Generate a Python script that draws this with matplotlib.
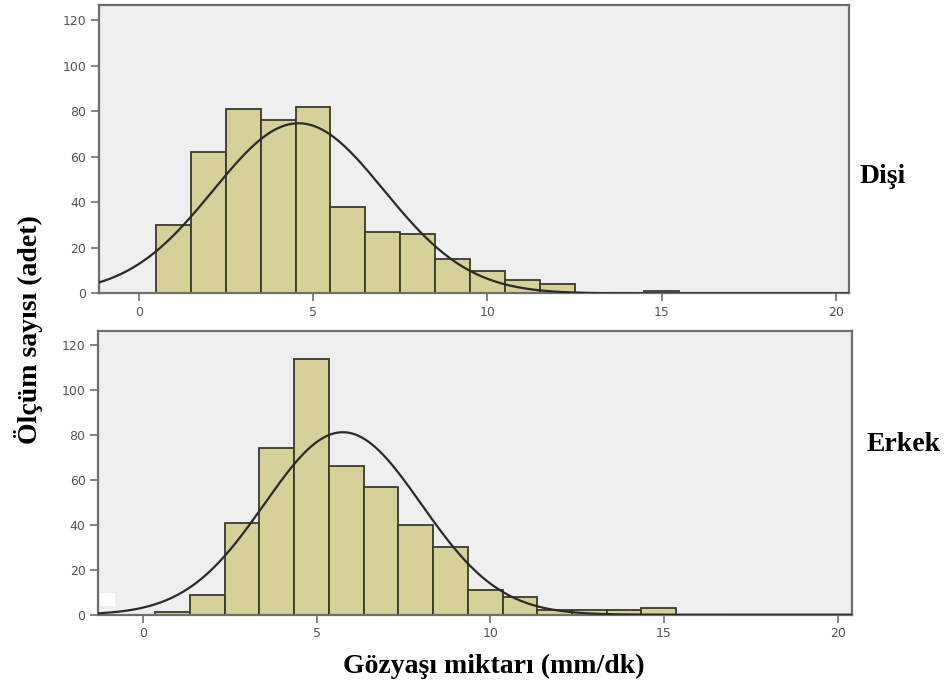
import numpy as np
import matplotlib
matplotlib.use("Agg")
import matplotlib.pyplot as plt
from matplotlib.patches import Rectangle

# ---------------------------------------------------------------------------
# veriler (resimden okunan histogram sayilari, kutu genisligi = 1)
# ---------------------------------------------------------------------------
disi_start = 0.5
disi_counts = [30, 62, 81, 76, 82, 38, 27, 26, 15, 10, 6, 4, 0, 0, 1]

erkek_start = 0.35
erkek_counts = [1, 9, 41, 74, 114, 66, 57, 40, 30, 11, 8, 2, 2, 2, 3]

group_labels = ["Dişi", "Erkek"]
x_ticks = [0, 5, 10, 15, 20]
y_ticks = [0, 20, 40, 60, 80, 100, 120]

BAR = "#d6d198"
EDGE = "#3a3a2a"
PANEL = "#efefef"
SPINE = "#6e6e6e"
SERIF = ["Liberation Serif", "DejaVu Serif"]


def draw_panel(ax, start, counts, xlim, ylim):
    counts = np.asarray(counts, dtype=float)
    edges = start + np.arange(len(counts) + 1)
    ax.bar(edges[:-1], counts, width=1.0, align="edge", color=BAR,
           edgecolor=EDGE, linewidth=1.3, zorder=2)

    # normal egri, histogramin ortalama / std'sinden
    mids = edges[:-1] + 0.5
    n = counts.sum()
    mu = (mids * counts).sum() / n
    sd = np.sqrt(((mids - mu) ** 2 * counts).sum() / n)
    xs = np.linspace(xlim[0], xlim[1], 400)
    ys = n / (sd * np.sqrt(2 * np.pi)) * np.exp(-0.5 * ((xs - mu) / sd) ** 2)
    ax.plot(xs, ys, color="#2a2a2a", linewidth=1.6, zorder=3)

    ax.set_xlim(*xlim)
    ax.set_ylim(*ylim)
    ax.set_facecolor(PANEL)
    ax.set_xticks(x_ticks)
    ax.set_yticks(y_ticks)
    ax.tick_params(direction="out", length=6, width=1.2, color=SPINE,
                   labelsize=9, labelcolor="#555555", pad=3)
    for sp in ax.spines.values():
        sp.set_color(SPINE)
        sp.set_linewidth(1.6)


fig = plt.figure(figsize=(9.47, 6.86), dpi=100)

ax1 = fig.add_axes([0.1045, 0.5722, 0.792, 0.4206])
draw_panel(ax1, disi_start, disi_counts, (-1.14, 20.37), (0, 126.6))

ax2 = fig.add_axes([0.1035, 0.1039, 0.796, 0.414])
draw_panel(ax2, erkek_start, erkek_counts, (-1.30, 20.41), (0, 126.4))
# sol alttaki kucuk beyaz leke
ax2.add_patch(Rectangle((0.003, 0.03), 0.02, 0.045, transform=ax2.transAxes,
                        facecolor="white", edgecolor="none", zorder=4))

fig.text(0.908, 0.733, group_labels[0], family=SERIF, fontweight="bold",
         fontsize=20, ha="left", va="baseline")
fig.text(0.915, 0.343, group_labels[1], family=SERIF, fontweight="bold",
         fontsize=20, ha="left", va="baseline")

fig.text(0.0296, 0.520, "Ölçüm sayısı (adet)", family=SERIF,
         fontweight="bold", fontsize=20, rotation=90, ha="center",
         va="center")
fig.text(0.521, 0.019, "Gözyaşı miktarı (mm/dk)", family=SERIF,
         fontweight="bold", fontsize=20, ha="center", va="baseline")

fig.savefig("out.png", dpi=100, facecolor="white")
